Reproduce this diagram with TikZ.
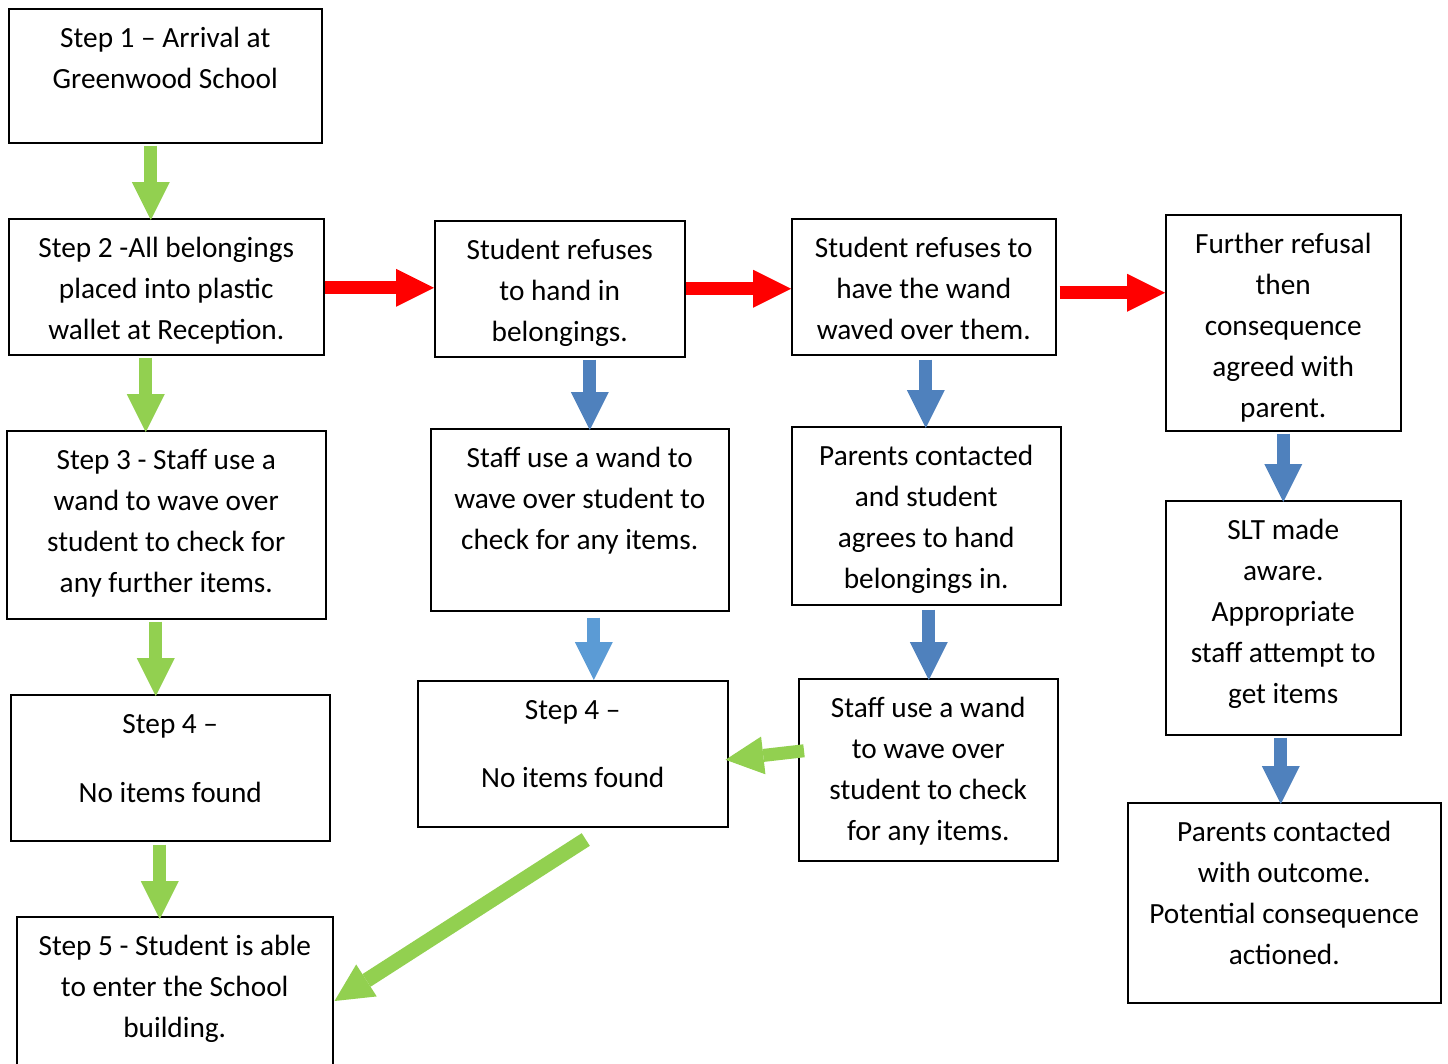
\documentclass[tikz,border=0pt]{standalone}
\usepackage{fontspec}
\setmainfont{Carlito}
\usetikzlibrary{arrows.meta}

\definecolor{stepgreen}{HTML}{92D050}
\definecolor{stepred}{HTML}{FF0000}
\definecolor{stepblue}{HTML}{4F81BD}
\definecolor{lightblue}{HTML}{5B9BD5}

% Box text: width, height, lines (top aligned)
\newcommand{\boxtext}[3]{\parbox[t][#2][t]{#1}{\centering\rule{0pt}{39pt}#3}}

\tikzset{
  box/.style={draw, line width=1.5pt, inner sep=0pt, anchor=north west,
    font=\fontsize{29.3}{41}\selectfont},
  blockarrow/.style={line width=13pt,
    -{Triangle[length=38pt,width=38pt,line width=0pt]}},
  greenarrow/.style={blockarrow, draw=stepgreen},
  redarrow/.style={blockarrow, draw=stepred},
  bluearrow/.style={blockarrow, draw=stepblue},
}

\begin{document}
\begin{tikzpicture}[x=1pt, y=-1pt]

\useasboundingbox (0,0) rectangle (1448,1063);

% Left column
\node[box] (b1) at (8,8) {\boxtext{313pt}{134pt}{Step 1 – Arrival at\\Greenwood School}};
\node[box] (b2) at (8,218) {\boxtext{315pt}{136pt}{Step 2 -All belongings\\placed into plastic\\wallet at Reception.}};
\node[box] (b3) at (6,430) {\boxtext{319pt}{188pt}{Step 3 - Staff use a\\wand to wave over\\student to check for\\any further items.}};
\node[box] (b4) at (10,694) {\boxtext{319pt}{146pt}{Step 4 –\\[28pt]No items found}};
\node[box] (b5) at (16,916) {\boxtext{316pt}{160pt}{Step 5 - Student is able\\to enter the School\\building.}};

% Second column
\node[box] (c1) at (434,220) {\boxtext{250pt}{136pt}{Student refuses\\to hand in\\belongings.}};
\node[box] (c2) at (430,428) {\boxtext{298pt}{182pt}{Staff use a wand to\\wave over student to\\check for any items.}};
\node[box] (c3) at (417,680) {\boxtext{310pt}{146pt}{Step 4 –\\[27pt]No items found}};

% Third column
\node[box] (d1) at (791,218) {\boxtext{264pt}{136pt}{Student refuses to\\have the wand\\waved over them.}};
\node[box] (d2) at (791,426) {\boxtext{269pt}{178pt}{Parents contacted\\and student\\agrees to hand\\belongings in.}};
\node[box] (d3) at (798,678) {\boxtext{259pt}{182pt}{Staff use a wand\\to wave over\\student to check\\for any items.}};

% Right column
\node[box] (e1) at (1165,214) {\boxtext{235pt}{216pt}{Further refusal\\then\\consequence\\agreed with\\parent.}};
\node[box] (e2) at (1165,500) {\boxtext{235pt}{234pt}{SLT made\\aware.\\Appropriate\\staff attempt to\\get items}};
\node[box] (e3) at (1127,802) {\boxtext{313pt}{200pt}{Parents contacted\\with outcome.\\Potential consequence\\actioned.}};

% Green arrows down the left
\draw[greenarrow] ([xshift=-14.5pt,yshift=-2pt]b1.south) -- ([xshift=-14.5pt,yshift=-2pt]b1.south |- b2.north);
\draw[greenarrow] ([xshift=-20.5pt,yshift=-2pt]b2.south) -- ([xshift=-20.5pt,yshift=-2pt]b2.south |- b3.north);
\draw[greenarrow] ([xshift=-10.5pt,yshift=-2pt]b3.south) -- ([xshift=-10.5pt,yshift=-2pt]b3.south |- b4.north);
\draw[greenarrow] ([xshift=-10.5pt,yshift=-3pt]b4.south) -- ([xshift=-10.5pt,yshift=-3pt]b4.south |- b5.north);

% Red arrows across
\draw[redarrow] ([yshift=-1pt]b2.east) -- ([yshift=-1pt]b2.east -| c1.west);
\draw[redarrow] (c1.east) -- (c1.east -| d1.west);
\draw[redarrow] ([xshift=3pt,yshift=-6pt]d1.east) -- ([yshift=-6pt]d1.east -| e1.west);

% Blue arrows down
\draw[bluearrow] ([xshift=30pt,yshift=-2pt]c1.south) -- ([xshift=30pt,yshift=-2pt]c1.south |- c2.north);
\draw[bluearrow, draw=lightblue] ([xshift=14pt,yshift=-6pt]c2.south) -- ([xshift=14pt]c2.south |- c3.north);
\draw[bluearrow] ([xshift=2pt,yshift=-4pt]d1.south) -- ([xshift=2pt,yshift=-2pt]d1.south |- d2.north);
\draw[bluearrow] ([xshift=2.5pt,yshift=-4pt]d2.south) -- ([xshift=2.5pt,yshift=-2pt]d2.south |- d3.north);
\draw[bluearrow] ([yshift=-2pt]e1.south) -- ([yshift=-2pt]e1.south |- e2.north);
\draw[bluearrow] ([xshift=-2.5pt,yshift=-2pt]e2.south) -- ([xshift=-2.5pt,yshift=-2pt]e2.south |- e3.north);

% Green arrows back to step 4 and step 5
\draw[greenarrow] ([xshift=6pt,yshift=19pt]d3.west) -- ([xshift=-3pt,yshift=-6pt]c3.east);
\draw[greenarrow, line width=15pt] ([xshift=13pt,yshift=-12pt]c3.south) -- ([xshift=1pt,yshift=-85pt]b5.north east);

\end{tikzpicture}
\end{document}
